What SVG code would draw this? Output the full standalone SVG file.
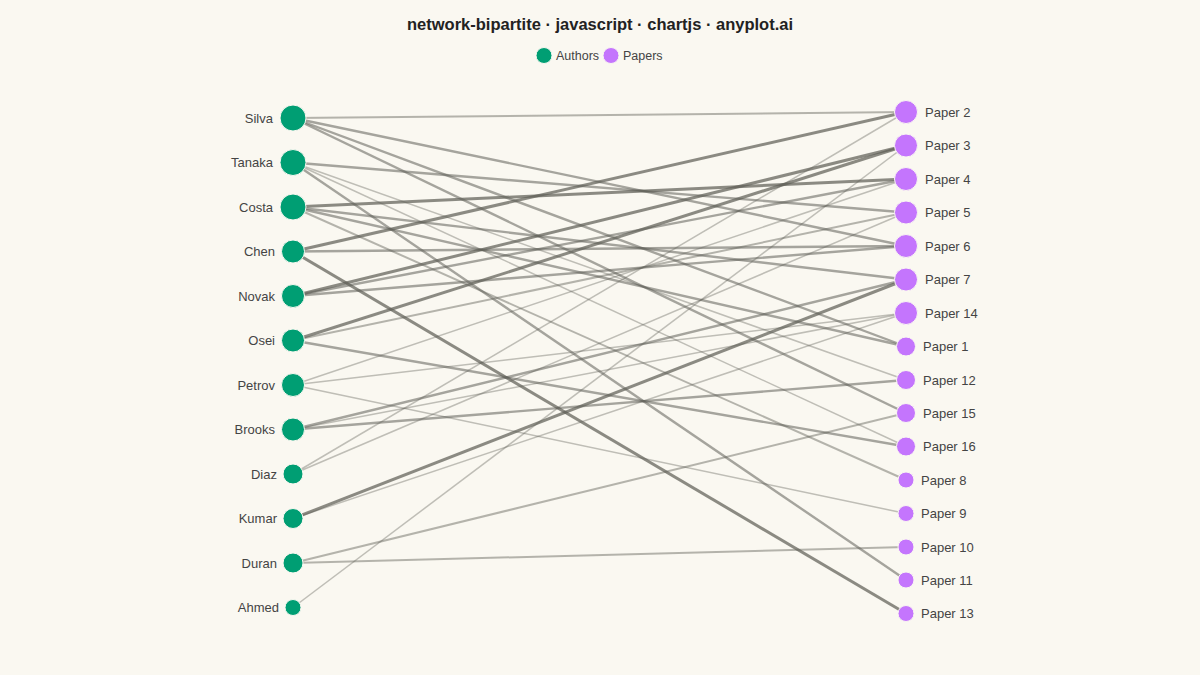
<svg xmlns="http://www.w3.org/2000/svg" width="1200" height="675" viewBox="0 0 1200 675">
<style>
.bg{fill:#FAF8F1}
.title{font-family:"Liberation Sans",Arial,sans-serif;font-weight:bold;font-size:16.5px;fill:#222;text-anchor:middle}
.leg{font-family:"Liberation Sans",Arial,sans-serif;font-size:12.5px;fill:#444}
.al{font-family:"Liberation Sans",Arial,sans-serif;font-size:13px;fill:#444;text-anchor:end}
.pl{font-family:"Liberation Sans",Arial,sans-serif;font-size:13px;fill:#444;text-anchor:start}
.author{fill:#009E73;stroke:#FAF8F1;stroke-width:1}
.paper{fill:#C475FD;stroke:#FAF8F1;stroke-width:1}
.e{stroke:#5f5f57;fill:none}
.w3{stroke-width:3;stroke-opacity:0.72}
.w2{stroke-width:2.4;stroke-opacity:0.55}
.w1{stroke-width:1.5;stroke-opacity:0.38}
.w15{stroke-width:2;stroke-opacity:0.45}
</style>
<rect class="bg" x="0" y="0" width="1200" height="675"/>
<text class="title" x="600" y="30">network-bipartite · javascript · chartjs · anyplot.ai</text>
<g id="legend">
<circle class="author" cx="544" cy="55.5" r="8"/>
<text class="leg" x="556" y="60">Authors</text>
<circle class="paper" cx="611" cy="55.5" r="8"/>
<text class="leg" x="623" y="60">Papers</text>
</g>
<g id="edges">
<line class="e w15" x1="293" y1="118" x2="906" y2="112"/>
<line class="e w2" x1="293" y1="118" x2="906" y2="246"/>
<line class="e w2" x1="293" y1="118" x2="906" y2="346.5"/>
<line class="e w2" x1="293" y1="118" x2="906" y2="413"/>
<line class="e w2" x1="293" y1="162.5" x2="906" y2="212.5"/>
<line class="e w1" x1="293" y1="162.5" x2="906" y2="380"/>
<line class="e w1" x1="293" y1="162.5" x2="906" y2="446.5"/>
<line class="e w2" x1="293" y1="162.5" x2="906" y2="580"/>
<line class="e w3" x1="293" y1="207" x2="906" y2="179"/>
<line class="e w2" x1="293" y1="207" x2="906" y2="279.5"/>
<line class="e w2" x1="293" y1="207" x2="906" y2="346.5"/>
<line class="e w15" x1="293" y1="207" x2="906" y2="480"/>
<line class="e w3" x1="293" y1="251.5" x2="906" y2="112"/>
<line class="e w2" x1="293" y1="251.5" x2="906" y2="246"/>
<line class="e w3" x1="293" y1="251.5" x2="906" y2="613.5"/>
<line class="e w3" x1="293" y1="296" x2="906" y2="145.5"/>
<line class="e w2" x1="293" y1="296" x2="906" y2="179"/>
<line class="e w2" x1="293" y1="296" x2="906" y2="246"/>
<line class="e w3" x1="293" y1="340.5" x2="906" y2="145.5"/>
<line class="e w15" x1="293" y1="340.5" x2="906" y2="212.5"/>
<line class="e w2" x1="293" y1="340.5" x2="906" y2="446.5"/>
<line class="e w1" x1="293" y1="385" x2="906" y2="179"/>
<line class="e w1" x1="293" y1="385" x2="906" y2="313"/>
<line class="e w1" x1="293" y1="385" x2="906" y2="513.5"/>
<line class="e w2" x1="293" y1="429.5" x2="906" y2="279.5"/>
<line class="e w1" x1="293" y1="429.5" x2="906" y2="313"/>
<line class="e w2" x1="293" y1="429.5" x2="906" y2="380"/>
<line class="e w1" x1="293" y1="474" x2="906" y2="112"/>
<line class="e w1" x1="293" y1="474" x2="906" y2="212.5"/>
<line class="e w3" x1="293" y1="518.5" x2="906" y2="279.5"/>
<line class="e w1" x1="293" y1="518.5" x2="906" y2="313"/>
<line class="e w15" x1="293" y1="563" x2="906" y2="413"/>
<line class="e w15" x1="293" y1="563" x2="906" y2="547"/>
<line class="e w1" x1="293" y1="607.5" x2="906" y2="145.5"/>
</g>
<g id="author-silva"><circle class="author" cx="293" cy="118" r="13"/><text class="al" x="273" y="122.5">Silva</text></g>
<g id="author-tanaka"><circle class="author" cx="293" cy="162.5" r="13"/><text class="al" x="273" y="167">Tanaka</text></g>
<g id="author-costa"><circle class="author" cx="293" cy="207" r="13"/><text class="al" x="273" y="211.5">Costa</text></g>
<g id="author-chen"><circle class="author" cx="293" cy="251.5" r="11.5"/><text class="al" x="275" y="256">Chen</text></g>
<g id="author-novak"><circle class="author" cx="293" cy="296" r="11.5"/><text class="al" x="275" y="300.5">Novak</text></g>
<g id="author-osei"><circle class="author" cx="293" cy="340.5" r="11.5"/><text class="al" x="275" y="345">Osei</text></g>
<g id="author-petrov"><circle class="author" cx="293" cy="385" r="11.5"/><text class="al" x="275" y="389.5">Petrov</text></g>
<g id="author-brooks"><circle class="author" cx="293" cy="429.5" r="11.5"/><text class="al" x="275" y="434">Brooks</text></g>
<g id="author-diaz"><circle class="author" cx="293" cy="474" r="10"/><text class="al" x="277" y="478.5">Diaz</text></g>
<g id="author-kumar"><circle class="author" cx="293" cy="518.5" r="10"/><text class="al" x="277" y="523">Kumar</text></g>
<g id="author-duran"><circle class="author" cx="293" cy="563" r="10"/><text class="al" x="277" y="567.5">Duran</text></g>
<g id="author-ahmed"><circle class="author" cx="293" cy="607.5" r="8"/><text class="al" x="279" y="612">Ahmed</text></g>
<g id="paper-2"><circle class="paper" cx="906" cy="112" r="11.5"/><text class="pl" x="925" y="116.5">Paper 2</text></g>
<g id="paper-3"><circle class="paper" cx="906" cy="145.5" r="11.5"/><text class="pl" x="925" y="150">Paper 3</text></g>
<g id="paper-4"><circle class="paper" cx="906" cy="179" r="11.5"/><text class="pl" x="925" y="183.5">Paper 4</text></g>
<g id="paper-5"><circle class="paper" cx="906" cy="212.5" r="11.5"/><text class="pl" x="925" y="217">Paper 5</text></g>
<g id="paper-6"><circle class="paper" cx="906" cy="246" r="11.5"/><text class="pl" x="925" y="250.5">Paper 6</text></g>
<g id="paper-7"><circle class="paper" cx="906" cy="279.5" r="11.5"/><text class="pl" x="925" y="284">Paper 7</text></g>
<g id="paper-14"><circle class="paper" cx="906" cy="313" r="11.5"/><text class="pl" x="925" y="317.5">Paper 14</text></g>
<g id="paper-1"><circle class="paper" cx="906" cy="346.5" r="9.5"/><text class="pl" x="923" y="351">Paper 1</text></g>
<g id="paper-12"><circle class="paper" cx="906" cy="380" r="9.5"/><text class="pl" x="923" y="384.5">Paper 12</text></g>
<g id="paper-15"><circle class="paper" cx="906" cy="413" r="9.5"/><text class="pl" x="923" y="417.5">Paper 15</text></g>
<g id="paper-16"><circle class="paper" cx="906" cy="446.5" r="9.5"/><text class="pl" x="923" y="451">Paper 16</text></g>
<g id="paper-8"><circle class="paper" cx="906" cy="480" r="8"/><text class="pl" x="921" y="484.5">Paper 8</text></g>
<g id="paper-9"><circle class="paper" cx="906" cy="513.5" r="8"/><text class="pl" x="921" y="518">Paper 9</text></g>
<g id="paper-10"><circle class="paper" cx="906" cy="547" r="8"/><text class="pl" x="921" y="551.5">Paper 10</text></g>
<g id="paper-11"><circle class="paper" cx="906" cy="580" r="8"/><text class="pl" x="921" y="584.5">Paper 11</text></g>
<g id="paper-13"><circle class="paper" cx="906" cy="613.5" r="8"/><text class="pl" x="921" y="618">Paper 13</text></g>
</svg>
